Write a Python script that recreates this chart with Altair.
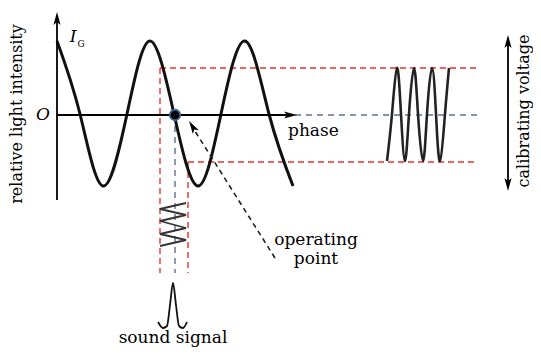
import math
import altair as alt
import pandas as pd

# ---- geometry (picture pixel coordinates) ----
# main interference curve: peaks, zero crossings, troughs
curve_x = [57, 80, 103, 127, 150, 174, 198, 221, 245, 269, 293]
curve_y = [41, 114, 186, 114, 41, 114, 186, 114, 41, 114, 186]

# calibrating oscillation (right)
cal_x = [387, 392, 397, 401, 405, 409, 414, 418, 423, 427, 432, 436, 440, 445, 449]
cal_y = [161, 114, 68, 114, 161, 114, 68, 114, 161, 114, 68, 114, 161, 114, 68]

# modulated signal (vertical zigzag under operating point)
sig_x = [186, 160, 186, 160, 186, 160, 186, 160]
sig_y = [203, 209, 215, 221, 228, 234, 240, 246]

# sound-signal pulse
pulse_x = [158, 163, 167, 170, 173, 176, 179, 183, 187]
pulse_y = [322, 328, 326, 305, 283, 305, 326, 328, 322]

# dashed guides
red_x1 = [160, 188, 160, 188]
red_y1 = [68, 162, 68, 162]
red_x2 = [478, 478, 160, 188]
red_y2 = [68, 162, 273, 273]

gray_x1 = [295, 175]
gray_y1 = [115, 115]
gray_x2 = [478, 175]
gray_y2 = [115, 273]

# solid lines: x axis, y axis, calibrating double arrow
solid_x1 = [57, 57, 508]
solid_y1 = [115, 200, 44]
solid_x2 = [290, 57, 508]
solid_y2 = [115, 20, 182]

# dashed pointer
ptr_x1 = [275]
ptr_y1 = [258]
ptr_x2 = [193]
ptr_y2 = [128]

# arrowheads: tip position and direction (deg clockwise from up)
head_x = [297, 57, 508, 508, 189]
head_y = [115, 12, 35, 191, 121]
head_angle = [90, 0, 0, 180, 328]
HEAD = 13.0

# operating point
dot_x = [175]
dot_y = [115]

# labels
lab_text = ["phase", "operating", "point", "sound signal"]
lab_x = [288, 316, 316, 173]
lab_y = [131, 240, 259, 338]
lab_align = ["left", "center", "center", "center"]

W, H = 525, 339
xs = alt.Scale(domain=[8, 8 + W], nice=False, zero=False)
ys = alt.Scale(domain=[8 + H, 8], nice=False, zero=False)
X = lambda f: alt.X(f, type="quantitative", scale=xs, axis=None)
Y = lambda f: alt.Y(f, type="quantitative", scale=ys, axis=None)
SERIF = "DejaVu Serif"

def line_layer(xv, yv, **kw):
    df = pd.DataFrame({"x": xv, "y": yv, "i": range(len(xv))})
    return alt.Chart(df).mark_line(**kw).encode(x=X("x"), y=Y("y"), order="i:Q")

def rule_layer(x1, y1, x2, y2, **kw):
    df = pd.DataFrame({"x": x1, "y": y1, "x2": x2, "y2": y2})
    return alt.Chart(df).mark_rule(**kw).encode(x=X("x"), y=Y("y"), x2="x2:Q", y2="y2:Q")

red = rule_layer(red_x1, red_y1, red_x2, red_y2, color="#e8322c", strokeWidth=1.4, strokeDash=[6, 4])
gray = rule_layer(gray_x1, gray_y1, gray_x2, gray_y2, color="#5f6f8a", strokeWidth=1.4, strokeDash=[6, 5])
solid = rule_layer(solid_x1, solid_y1, solid_x2, solid_y2, color="black", strokeWidth=1.8)
ptr = rule_layer(ptr_x1, ptr_y1, ptr_x2, ptr_y2, color="#222222", strokeWidth=1.6, strokeDash=[5, 4])

curve = line_layer(curve_x, curve_y, color="#111111", strokeWidth=3, interpolate="natural")
cal = line_layer(cal_x, cal_y, color="#222222", strokeWidth=2.6, interpolate="natural")
sig = line_layer(sig_x, sig_y, color="#333333", strokeWidth=1.8)
pulse = line_layer(pulse_x, pulse_y, color="#111111", strokeWidth=1.8, interpolate="monotone")

# arrowhead centres from tips
cx, cy = [], []
for tx, ty, a in zip(head_x, head_y, head_angle):
    r = math.radians(a)
    cx.append(tx - HEAD / 2 * math.sin(r))
    cy.append(ty + HEAD / 2 * math.cos(r))
heads_df = pd.DataFrame({"x": cx, "y": cy, "a": head_angle})
heads = alt.Chart(heads_df).mark_point(
    shape="M0,-1L0.55,1L0,0.55L-0.55,1Z", filled=True, color="black", opacity=1, size=HEAD * HEAD
).encode(x=X("x"), y=Y("y"), angle=alt.Angle("a:Q", scale=None))

dot = alt.Chart(pd.DataFrame({"x": dot_x, "y": dot_y})).mark_circle(
    size=110, color="black", opacity=1, stroke="#3b6596", strokeWidth=1.8
).encode(x=X("x"), y=Y("y"))

lab_df = pd.DataFrame({"t": lab_text, "x": lab_x, "y": lab_y, "al": lab_align})
labs_left = alt.Chart(lab_df[lab_df.al == "left"]).mark_text(
    font=SERIF, fontSize=17, align="left", baseline="middle", color="black"
).encode(x=X("x"), y=Y("y"), text="t:N")
labs_center = alt.Chart(lab_df[lab_df.al == "center"]).mark_text(
    font=SERIF, fontSize=17, align="center", baseline="middle", color="black"
).encode(x=X("x"), y=Y("y"), text="t:N")

rot_df = pd.DataFrame({"t": ["relative light intensity", "calibrating voltage"], "x": [17, 524], "y": [114, 111]})
rot = alt.Chart(rot_df).mark_text(
    font=SERIF, fontSize=16, align="center", baseline="middle", angle=270, color="black"
).encode(x=X("x"), y=Y("y"), text="t:N")

o_lab = alt.Chart(pd.DataFrame({"t": ["O"], "x": [43], "y": [115]})).mark_text(
    font=SERIF, fontSize=17, fontStyle="italic", align="center", baseline="middle", color="black"
).encode(x=X("x"), y=Y("y"), text="t:N")
i_lab = alt.Chart(pd.DataFrame({"t": ["I"], "x": [73], "y": [37]})).mark_text(
    font=SERIF, fontSize=17, fontStyle="italic", align="center", baseline="middle", color="black"
).encode(x=X("x"), y=Y("y"), text="t:N")
g_lab = alt.Chart(pd.DataFrame({"t": ["G"], "x": [81], "y": [44]})).mark_text(
    font=SERIF, fontSize=9, align="center", baseline="middle", color="black"
).encode(x=X("x"), y=Y("y"), text="t:N")

chart = alt.layer(
    red, gray, curve, cal, sig, pulse, solid, ptr, heads, dot,
    labs_left, labs_center, rot, o_lab, i_lab, g_lab
).properties(
    width=W, height=H, padding=0, autosize=alt.AutoSizeParams(type="none"), background="white"
).configure_view(stroke=None)

chart.save("out.html", embed_options={"renderer": "svg", "actions": False})
